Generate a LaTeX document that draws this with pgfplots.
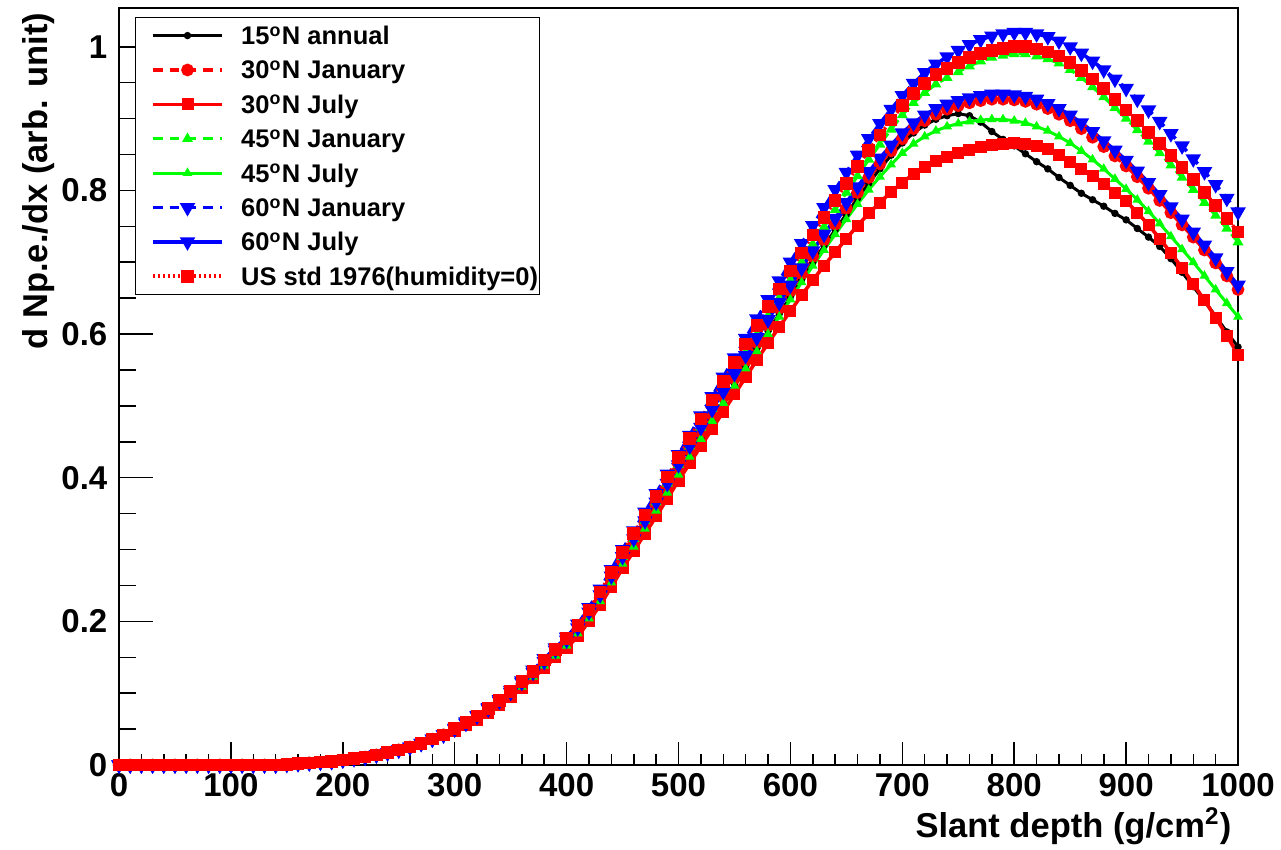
\documentclass[border=0pt]{standalone}
\usepackage{fontspec}
\setmainfont{Liberation Sans}
\usepackage{pgfplots}
\usepackage{pgfplotstable}
\pgfplotsset{compat=1.18}
\definecolor{rred}{rgb}{1,0,0}
\definecolor{rgreen}{rgb}{0,1,0}
\definecolor{rblue}{rgb}{0,0,1}
% A=60N Jan, B=US std, C=45N Jan, D=60N Jul, E=30N Jan, F=15N annual, G=45N Jul, H=30N Jul
\pgfplotstableread{
x A B C D E F G H
0 0 0 0 0 0 0 0 0
10 0 0 0 0 0 0 0 0
20 0 0 0 0 0 0 0 0
30 0 0 0 0 0 0 0 0
40 0 0 0 0 0 0 0 0
50 0 0 0 0 0 0 0 0
60 0 0 0 0 0 0 0 0
70 0 0 0 0 0 0 0 0
80 0 0 0 0 0 0 0 0
90 0 0 0 0 0 0 0 0
100 0 0 0 0 0 0 0 0
110 0 0 0 0 0 0 0 0
120 0 0 0 0 0 0 0 0
130 0 0 0 0 0 0 0 0
140 0 0 0 0 0 0 0 0
150 .001 .001 .001 .001 .001 .001 .001 .001
160 .002 .002 .002 .002 .002 .002 .002 .002
170 .003 .003 .003 .003 .003 .003 .003 .003
180 .004 .004 .004 .004 .004 .004 .004 .004
190 .005 .005 .005 .005 .005 .005 .005 .005
200 .007 .007 .007 .007 .007 .007 .007 .007
210 .009 .009 .009 .009 .009 .009 .009 .009
220 .011 .011 .011 .011 .011 .011 .011 .011
230 .014 .014 .014 .014 .014 .014 .014 .014
240 .017 .017 .017 .017 .017 .017 .017 .017
250 .021 .021 .021 .021 .021 .021 .021 .021
260 .025 .025 .025 .025 .025 .025 .025 .025
270 .030 .030 .030 .030 .030 .030 .030 .030
280 .036 .036 .036 .036 .036 .036 .036 .036
290 .042 .042 .042 .042 .042 .042 .042 .042
300 .051 .051 .050 .050 .049 .048 .048 .047
310 .060 .059 .058 .058 .057 .056 .056 .055
320 .069 .068 .067 .068 .066 .065 .064 .063
330 .080 .079 .077 .078 .076 .075 .074 .073
340 .091 .090 .088 .089 .088 .086 .085 .083
350 .104 .102 .100 .101 .100 .098 .097 .095
360 .117 .116 .113 .115 .113 .111 .109 .107
370 .132 .130 .128 .129 .127 .124 .123 .121
380 .148 .146 .143 .144 .142 .139 .138 .135
390 .163 .161 .158 .160 .157 .154 .152 .150
400 .178 .176 .172 .174 .171 .168 .166 .163
410 .196 .194 .190 .191 .188 .185 .183 .179
420 .219 .216 .212 .213 .209 .206 .204 .200
430 .245 .241 .237 .237 .233 .230 .228 .223
440 .272 .268 .263 .263 .259 .256 .254 .248
450 .300 .296 .290 .290 .286 .282 .280 .274
460 .326 .322 .315 .315 .311 .306 .304 .298
470 .352 .348 .340 .340 .336 .331 .329 .322
480 .378 .374 .366 .366 .361 .356 .354 .346
490 .405 .401 .392 .392 .386 .381 .379 .371
500 .432 .428 .418 .418 .412 .406 .404 .396
510 .459 .455 .444 .444 .438 .431 .429 .420
520 .486 .482 .470 .470 .463 .456 .454 .444
530 .513 .508 .496 .495 .488 .481 .479 .468
540 .540 .534 .522 .520 .513 .506 .504 .492
550 .567 .560 .548 .545 .538 .530 .528 .516
560 .594 .586 .574 .570 .563 .555 .552 .540
570 .621 .612 .600 .595 .588 .580 .576 .564
580 .648 .638 .625 .620 .612 .604 .600 .587
590 .674 .663 .650 .644 .636 .628 .624 .610
600 .700 .688 .675 .668 .660 .652 .648 .632
610 .726 .713 .700 .692 .684 .676 .672 .654
620 .751 .738 .725 .716 .708 .700 .695 .675
630 .776 .762 .749 .739 .731 .723 .717 .695
640 .801 .786 .773 .761 .753 .745 .739 .714
650 .825 .810 .797 .783 .775 .767 .760 .733
660 .849 .833 .820 .805 .797 .789 .781 .751
670 .872 .856 .843 .826 .818 .810 .801 .768
680 .893 .877 .864 .845 .837 .830 .819 .783
690 .913 .898 .885 .863 .855 .849 .836 .798
700 .932 .918 .905 .880 .872 .866 .852 .811
710 .949 .935 .922 .894 .886 .880 .865 .823
720 .964 .949 .936 .905 .897 .891 .875 .833
730 .976 .961 .948 .914 .906 .899 .883 .841
740 .986 .970 .957 .920 .913 .904 .889 .847
750 .995 .978 .965 .925 .918 .907 .893 .852
760 1.003 .985 .973 .929 .922 .904 .896 .856
770 1.010 .991 .980 .932 .925 .895 .898 .860
780 1.015 .995 .985 .934 .927 .882 .899 .863
790 1.018 .998 .988 .934 .927 .871 .899 .865
800 1.020 1.000 .990 .933 .926 .862 .897 .866
810 1.020 1.000 .990 .931 .924 .851 .894 .865
820 1.018 .997 .987 .927 .920 .840 .889 .862
830 1.014 .993 .983 .921 .914 .830 .883 .857
840 1.008 .987 .977 .914 .906 .818 .875 .850
850 1.000 .978 .968 .905 .897 .807 .866 .840
860 .991 .967 .957 .894 .886 .796 .855 .830
870 .980 .955 .944 .882 .874 .787 .843 .820
880 .968 .942 .930 .869 .861 .778 .830 .809
890 .955 .927 .915 .856 .848 .768 .816 .797
900 .942 .912 .900 .842 .834 .759 .802 .785
910 .927 .897 .884 .827 .819 .747 .787 .769
920 .912 .881 .868 .811 .803 .735 .771 .752
930 .896 .865 .852 .794 .786 .722 .754 .733
940 .879 .849 .835 .777 .769 .705 .736 .713
950 .862 .832 .818 .760 .752 .686 .718 .692
960 .844 .815 .801 .742 .735 .666 .700 .670
970 .826 .797 .783 .724 .717 .646 .681 .647
980 .808 .779 .765 .706 .699 .625 .662 .623
990 .789 .761 .747 .687 .681 .603 .643 .598
1000 .770 .742 .728 .668 .662 .582 .624 .571
}\data

\pgfplotsset{
  common/.style={
    at={(0pt,0pt)}, anchor=south west,
    scale only axis, width=373pt, height=252.33pt,
    xmin=0, xmax=1000, ymin=0, ymax=1.054,
    axis line style={line width=0.5pt},
    every tick/.style={black, line width=0.5pt},
    tick align=inside,
    tick pos=left,
    /pgf/number format/assume math mode=true,
    /pgf/number format/1000 sep={},
    scaled ticks=false,
    tick label style={font=\fontsize{11}{13}\selectfont\bfseries},
  }
}

\begin{document}
\begin{tikzpicture}
\useasboundingbox (-39.67pt,-28pt) rectangle (387.33pt,255pt);
% axis carrying the y ticks (longer ticks, as in ROOT)
\begin{axis}[common,
  xtick=\empty,
  ytick={0,0.2,0.4,0.6,0.8,1},
  minor y tick num=3,
  major tick length=11.2pt, minor tick length=5.6pt,
  yticklabel style={anchor=east, inner sep=0pt, xshift=-3.7pt},
  ylabel={d Np.e./dx (arb. unit)},
  ylabel style={at={(axis description cs:-0.06434,0.99473)}, anchor=base east, inner sep=0pt,
    font=\fontsize{11.5}{13}\selectfont\bfseries},
]
\end{axis}
% main axis with the data, the x ticks and the legend
\begin{axis}[common,
  xtick={0,100,...,1000},
  minor x tick num=4,
  ytick=\empty,
  major tick length=7.6pt, minor tick length=3.8pt,
  xticklabel style={anchor=north, inner sep=0pt, yshift=-2.7pt},
  xlabel={Slant depth (g/cm\textsuperscript{2})},
  xlabel style={at={(axis description cs:0.99464,-0.0963)}, anchor=base east, inner sep=0pt,
    font=\fontsize{11.5}{13}\selectfont\bfseries},
  clip=false,
  legend cell align=left,
  legend style={at={(axis description cs:0,1)}, anchor=north west, xshift=5.33pt, yshift=-3pt,
    draw=black, line width=0.4pt, fill=white, inner xsep=0.5pt, inner ysep=1.5pt,
    font=\fontsize{8.5}{10}\selectfont\bfseries, row sep=2.46pt, column sep=5.7pt,
    nodes={inner sep=0pt, text height=7.5pt, text depth=1.5pt, anchor=west}},
  legend image code/.code={\path[draw=none,fill=none] (0pt,0pt) -- (28.4pt,0pt);
    \draw[fill=none,mark repeat=2,mark phase=2,#1] plot coordinates {(5.2pt,0pt) (16.8pt,0pt) (28.4pt,0pt)};},
]
\addplot[black, line width=1pt, mark=*, mark size=0.7pt, mark options={solid}] table[x=x,y=F]{\data};
\addlegendentry{15\textsuperscript{o}N annual}
\addplot[rred, line width=1.2pt, dash pattern=on 3.3pt off 2.3pt, mark=*, mark size=1.5pt, mark options={solid}] table[x=x,y=E]{\data};
\addlegendentry{30\textsuperscript{o}N January}
\addplot[rred, line width=1.2pt, mark=square*, mark size=1.4pt, mark options={solid}] table[x=x,y=H]{\data};
\addlegendentry{30\textsuperscript{o}N July}
\addplot[rgreen, line width=1pt, dash pattern=on 3.3pt off 2.3pt, mark=triangle*, mark size=1.1pt, mark options={solid}] table[x=x,y=C]{\data};
\addlegendentry{45\textsuperscript{o}N January}
\addplot[rgreen, line width=1pt, mark=triangle*, mark size=0.9pt, mark options={solid}] table[x=x,y=G]{\data};
\addlegendentry{45\textsuperscript{o}N July}
\addplot[rblue, line width=1.2pt, dash pattern=on 3.3pt off 2.3pt, mark=triangle*, mark size=1.8pt, mark options={solid, rotate=180}] table[x=x,y=A]{\data};
\addlegendentry{60\textsuperscript{o}N January}
\addplot[rblue, line width=1.2pt, mark=triangle*, mark size=1.8pt, mark options={solid, rotate=180}] table[x=x,y=D]{\data};
\addlegendentry{60\textsuperscript{o}N July}
\addplot[rred, line width=1.2pt, dash pattern=on 0.7pt off 1pt, mark=square*, mark size=1.5pt, mark options={solid}] table[x=x,y=B]{\data};
\addlegendentry{US std 1976(humidity=0)}
\end{axis}
\end{tikzpicture}
\end{document}
